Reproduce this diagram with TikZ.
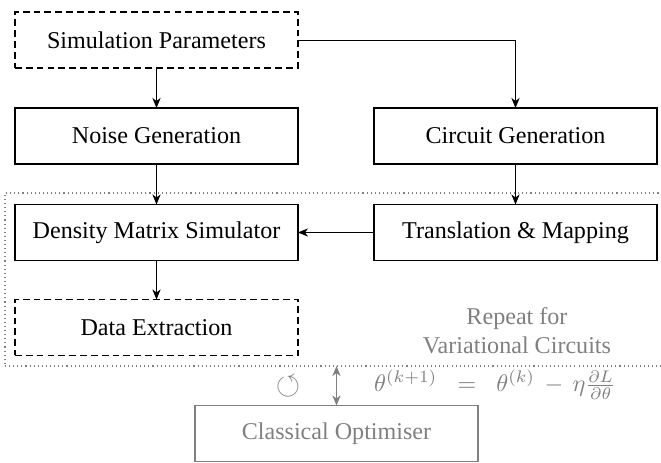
\documentclass[tikz,border=0pt]{standalone}
\usepackage{amssymb}
\usepackage{fontspec}
\setmainfont{Liberation Serif}
\usetikzlibrary{arrows.meta}

\definecolor{softgray}{gray}{0.5}

\tikzset{
  stagebox/.style={draw, line width=0.6pt, minimum width=117.4pt, minimum height=23.2pt,
                   inner sep=0pt, outer sep=0pt, align=center},
  optbox/.style={stagebox, dash pattern=on 2.8pt off 1.7pt},
  greybox/.style={stagebox, draw=softgray, text=softgray},
  loopbox/.style={draw=softgray, line width=0.45pt, dash pattern=on 0.45pt off 1.25pt,
                  inner sep=0pt, outer sep=0pt},
  flow/.style={line width=0.4pt, -{Stealth[length=4.2pt,width=3.4pt,inset=1.3pt]}},
  twoway/.style={line width=0.4pt, draw=softgray,
                 {Stealth[length=4.2pt,width=3.4pt,inset=1.3pt]}-{Stealth[length=4.2pt,width=3.4pt,inset=1.3pt]}},
  note/.style={text=softgray, align=center, inner sep=0pt}
}

\begin{document}
\begin{tikzpicture}[x=0.415pt, y=-0.415pt]
  \clip (0,0) rectangle (661,463);

  % loop region of the variational workflow
  \node[loopbox, minimum width=288.4pt, minimum height=71.8pt, anchor=north west] (loop) at (5,193) {};

  % left column
  \node[optbox]   (sp)  at (156.5,40)    {Simulation Parameters};
  \node[stagebox] (ng)  at (156.5,136)   {Noise Generation};
  \node[stagebox] (dms) at (156.5,232.5) {Density Matrix Simulator};
  \node[optbox]   (de)  at (156.5,327.5) {Data Extraction};

  % right column
  \node[stagebox] (cg)  at (515.5,136)   {Circuit Generation};
  \node[stagebox] (tm)  at (515.5,232.5) {Translation \& Mapping};

  % optimiser below the loop
  \node[greybox]  (co)  at (336.5,433.5) {Classical Optimiser};

  \node[note] (rep) at (517,331) {Repeat for\\Variational Circuits};
  \node[note] (upd) at (495,385) {$\theta^{(k+1)} \;\;=\;\; \theta^{(k)} \,-\, \eta\frac{\partial L}{\partial\theta}$};
  \node[note, scale=1.3] (cyc) at (288,387) {$\circlearrowleft$};

  % connectors
  \draw[flow] (sp) -- (ng);
  \draw[flow] (sp.east) -| (cg.north);
  \draw[flow] (ng) -- (dms);
  \draw[flow] (cg) -- (tm);
  \draw[flow] (tm) -- (dms);
  \draw[flow] (dms) -- (de);
  \draw[twoway] (co.north) -- (co.north |- loop.south);
\end{tikzpicture}
\end{document}
